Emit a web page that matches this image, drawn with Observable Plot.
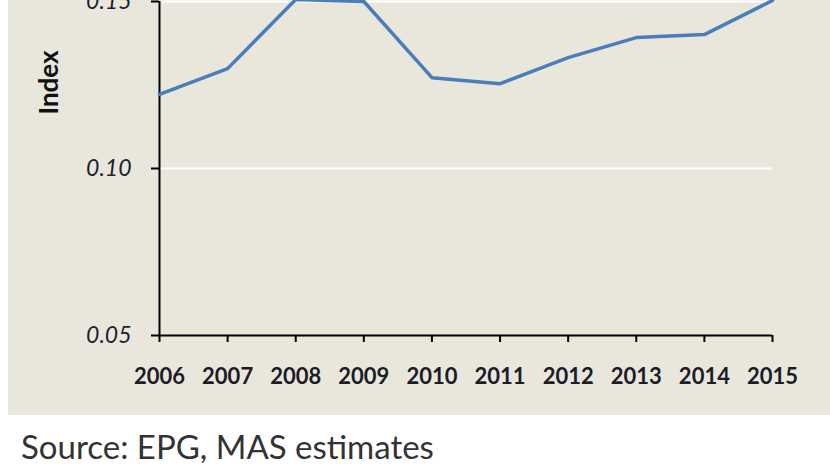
<!DOCTYPE html>
<html><head><meta charset="utf-8">
<script src="https://cdn.jsdelivr.net/npm/d3@7"></script>
<script src="https://cdn.jsdelivr.net/npm/@observablehq/plot@0.6"></script>
<style>
body{margin:0;background:#fff;font-family:Lato,"Open Sans",sans-serif;}
#wrap{position:relative;margin-left:8px;width:822px;height:415px;overflow:hidden;background:#E9E6DC;}
#wrap svg{display:block;margin-top:-40px;background:transparent !important;overflow:visible;}
#wrap svg [aria-label^="y-axis"] text{font-style:italic;fill:#1c1f33;font-size:23px;}
#wrap svg [aria-label^="x-axis"] text{font-weight:bold;fill:#1c1c28;}
#wrap svg [aria-label^="y-axis"] line,#wrap svg [aria-label^="x-axis"] line,
#wrap svg [aria-label^="y-axis"] path,#wrap svg [aria-label^="x-axis"] path{stroke:#000;stroke-width:2px;stroke-opacity:1;}
#src{margin:15px 0 0 21px;font-family:Lato,sans-serif;font-size:33px;color:#333;line-height:1;}
</style></head><body>
<div id="wrap"></div>
<div id="src">Source: EPG, MAS estimates</div>
<script>
const years = [2006, 2007, 2008, 2009, 2010, 2011, 2012, 2013, 2014, 2015];
const indexValues = [0.1222, 0.1299, 0.1506, 0.1500, 0.1272, 0.1254, 0.1332, 0.1392, 0.1401, 0.1503];
const yTicks = [0.05, 0.10, 0.15];
const gridValues = [0.10, 0.15];
const yLabel = "Index";
const sourceText = "Source: EPG, MAS estimates";

const data = years.map((y, i) => ({year: y, value: indexValues[i]}));

const chart = Plot.plot({
  width: 822,
  height: 455,
  marginLeft: 151,
  marginRight: 58,
  marginTop: 41,
  marginBottom: 80,
  style: {background: "transparent", fontFamily: "Lato, sans-serif", fontSize: "22px", overflow: "visible"},
  x: {domain: [2006, 2015], ticks: years, tickFormat: d3.format("d"), tickSize: 7, tickPadding: 26, label: null},
  y: {domain: [0.05, 0.15], ticks: yTicks, tickFormat: d3.format(".2f"), tickSize: 8, tickPadding: 20, label: null},
  marks: [
    Plot.ruleY(gridValues, {x1: 2006, x2: 2015, stroke: "#fff", strokeWidth: 2}),
    Plot.ruleX([2006], {y1: 0.05, y2: 0.15, stroke: "#000", strokeWidth: 2}),
    Plot.ruleY([0.05], {x1: 2006, x2: 2015, stroke: "#000", strokeWidth: 2}),
    Plot.line(data, {x: "year", y: "value", stroke: "#4A7EBB", strokeWidth: 3.5}),
    Plot.text([yLabel], {frameAnchor: "top-left", textAnchor: "middle", dx: -120, dy: 81, rotate: -90, fontWeight: "bold", fontSize: 26, fill: "#111"})
  ]
});
document.getElementById("wrap").appendChild(chart);
document.getElementById("src").textContent = sourceText;
</script>
</body></html>
